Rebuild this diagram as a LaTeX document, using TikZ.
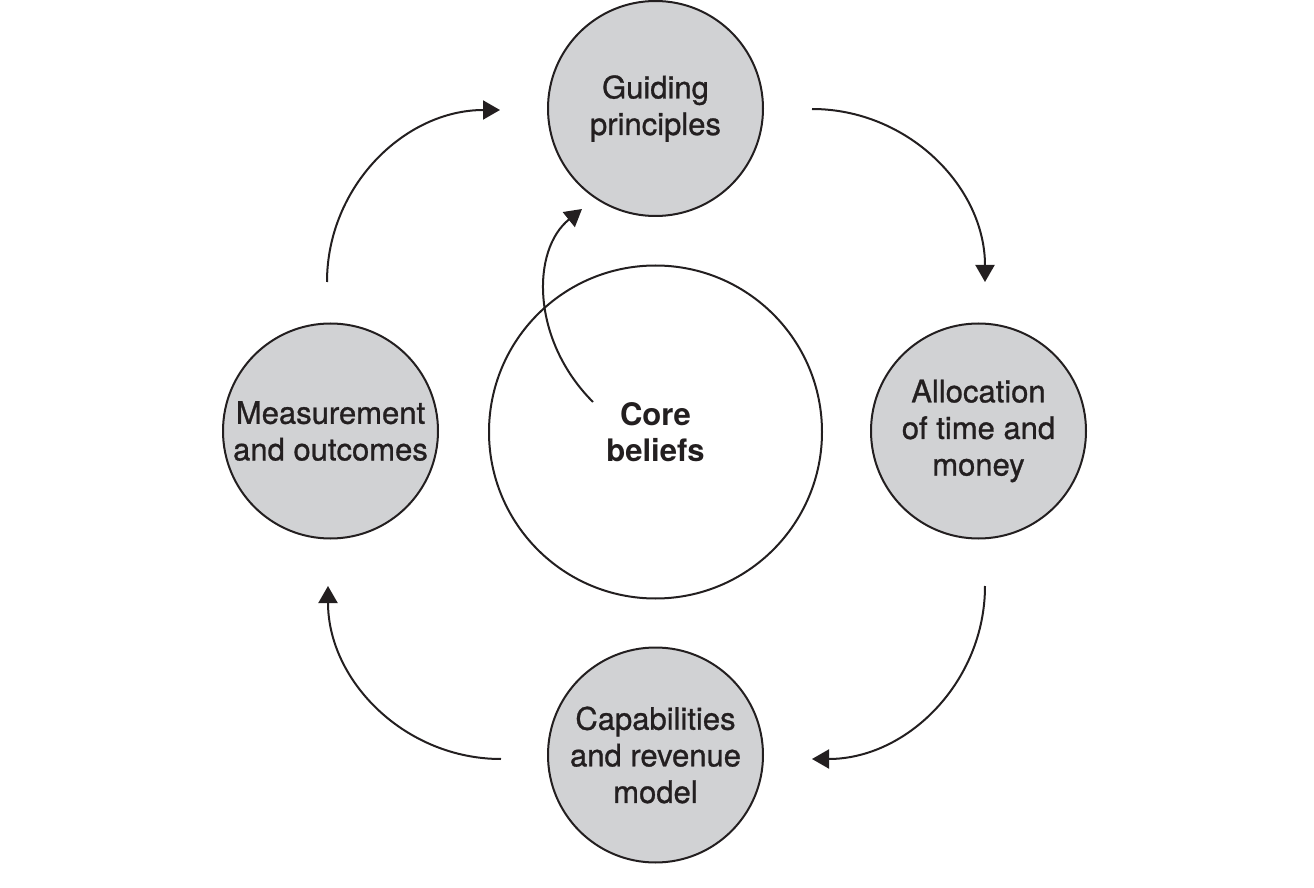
\documentclass[tikz,border=0pt]{standalone}
\usepackage{fontspec}
\setmainfont{TeX Gyre Heros}
\newfontfamily\medfont[FakeBold=0.9]{TeX Gyre Heros}
\usetikzlibrary{arrows.meta}
\definecolor{ink}{RGB}{35,31,32}
\definecolor{disc}{RGB}{209,210,212}
\tikzset{
  outer/.style={circle, draw=ink, line width=1pt, fill=disc, minimum size=107.5pt, inner sep=0pt,
    align=center, text=ink, font=\medfont\fontsize{15.5pt}{18.3pt}\selectfont},
  core/.style={circle, draw=ink, line width=1pt, fill=white, minimum size=166.5pt, inner sep=0pt,
    align=center, text=ink, font=\fontsize{15.5pt}{18.3pt}\selectfont\bfseries},
  flow/.style={draw=ink, line width=1pt, -{Triangle[length=8.5pt,width=9.5pt]}}
}
\begin{document}
\begin{tikzpicture}[x=0.5pt,y=-0.5pt]
\useasboundingbox (0,0) rectangle (1314,888);
\node[core]  (cb) at (655.5,432) {Core\\beliefs};
\node[outer] (gp) at (655.5,108.5) {Guiding\\principles};
\node[outer] (al) at (978.5,431) {Allocation\\of time and\\money};
\node[outer] (cr) at (655.5,755) {Capabilities\\and revenue\\model};
\node[outer] (mo) at (330.5,431) {Measurement\\and outcomes};
% free ends of the cycle arcs
\coordinate (a1) at (812,109);  \coordinate (b1) at (985,282);
\coordinate (a2) at (985,586);  \coordinate (b2) at (812,759);
\coordinate (a3) at (501,759);  \coordinate (b3) at (328,586);
\coordinate (a4) at (327,282);  \coordinate (b4) at (500,110);
\coordinate (c0) at (593,402);  \coordinate (c1) at (582,209);
\draw[flow] (a1) .. controls +(95.5,0) and +(0,-95.5) .. (b1);
\draw[flow] (a2) .. controls +(0,95.5) and +(95.5,0) .. (b2);
\draw[flow] (a3) .. controls +(-95.5,0) and +(0,95.5) .. (b3);
\draw[flow] (a4) .. controls +(0,-95.5) and +(-95.5,0) .. (b4);
\draw[flow] (c0) .. controls (531,340) and (531,250) .. (c1);
\end{tikzpicture}
\end{document}
